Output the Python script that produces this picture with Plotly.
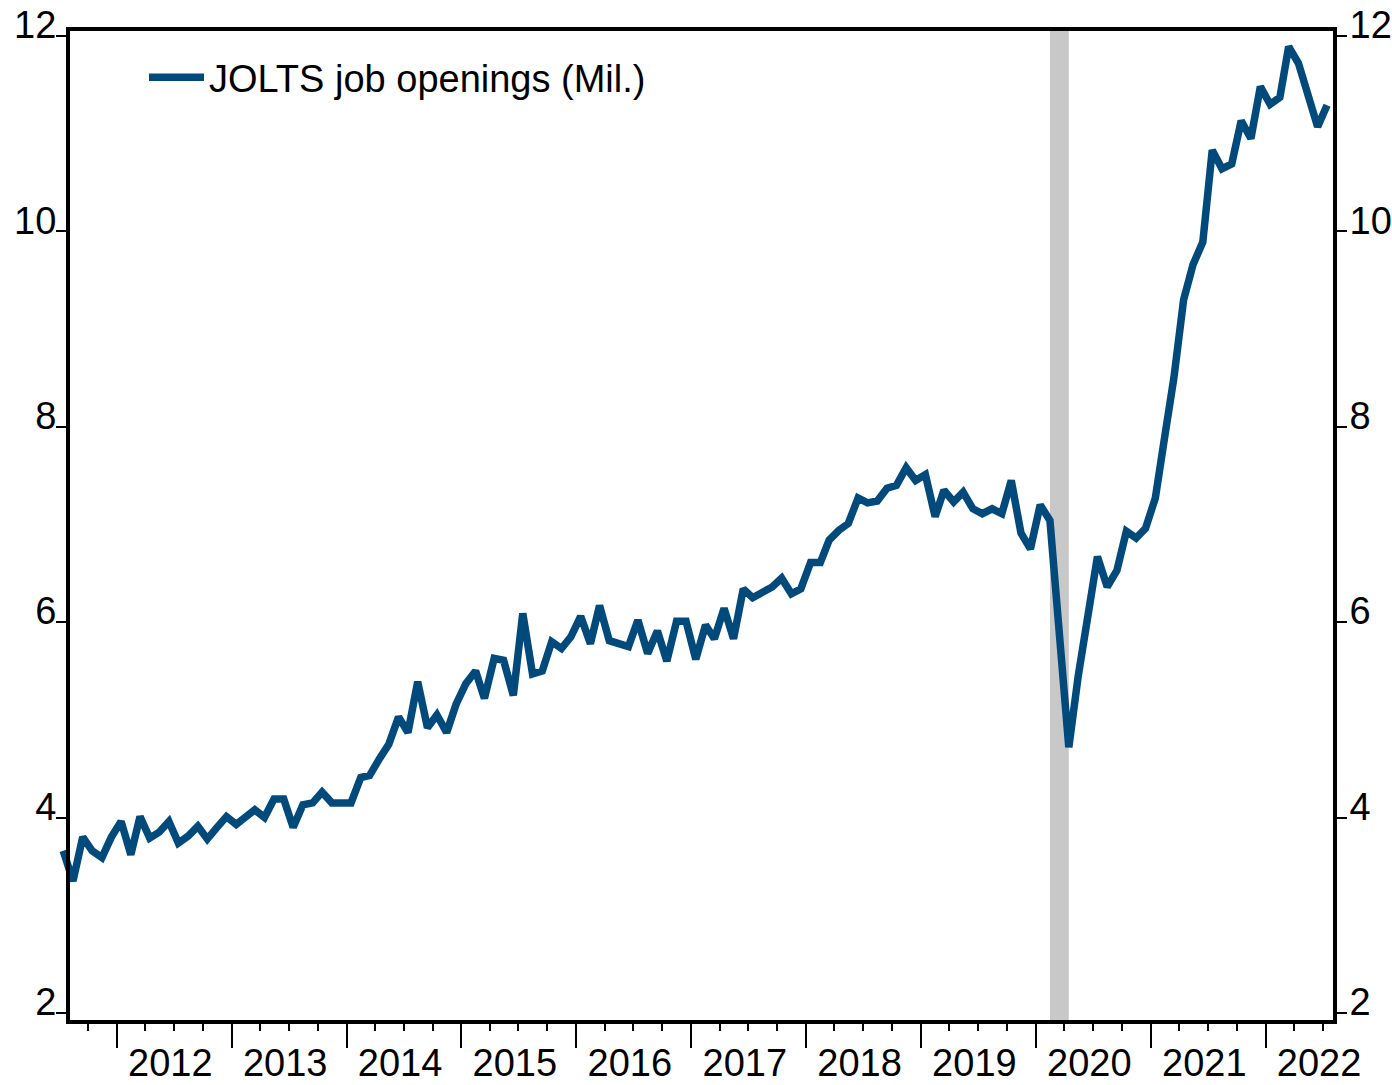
import pandas as pd
import plotly.graph_objects as go

# ---------------- data (monthly, Jul 2011 - Jul 2022, millions) ----------------
first_month = "2011-07-01"
jolts_2011 = [3.66, 3.35, 3.80, 3.66, 3.59, 3.80]
jolts_2012 = [3.96, 3.62, 4.01, 3.79, 3.85, 3.96, 3.74, 3.81, 3.91, 3.78, 3.90, 4.01]
jolts_2013 = [3.93, 4.02, 4.08, 4.00, 4.19, 4.19, 3.90, 4.13, 4.15, 4.26, 4.15, 4.15]
jolts_2014 = [4.15, 4.41, 4.43, 4.60, 4.75, 5.03, 4.87, 5.39, 4.92, 5.05, 4.87, 5.16]
jolts_2015 = [5.37, 5.50, 5.22, 5.63, 5.61, 5.25, 6.09, 5.47, 5.50, 5.80, 5.73, 5.85]
jolts_2016 = [6.06, 5.78, 6.17, 5.81, 5.79, 5.75, 6.02, 5.68, 5.91, 5.60, 6.01, 6.01]
jolts_2017 = [5.62, 5.97, 5.83, 6.14, 5.83, 6.34, 6.25, 6.31, 6.36, 6.45, 6.29, 6.34]
jolts_2018 = [6.61, 6.61, 6.84, 6.94, 7.01, 7.27, 7.22, 7.24, 7.37, 7.40, 7.58, 7.45]
jolts_2019 = [7.51, 7.08, 7.35, 7.23, 7.33, 7.16, 7.11, 7.16, 7.11, 7.45, 6.91, 6.75]
jolts_2020 = [7.20, 7.04, 5.95, 4.72, 5.45, 6.05, 6.67, 6.36, 6.53, 6.93, 6.86, 6.96]
jolts_2021 = [7.27, 7.92, 8.50, 9.30, 9.66, 9.89, 10.83, 10.64, 10.69, 11.13, 10.95, 11.48]
jolts_2022 = [11.30, 11.37, 11.89, 11.72, 11.37, 11.07, 11.29]

series_name = "JOLTS job openings (Mil.)"
recession_start = "2020-02-15"
recession_end = "2020-04-15"
y_ticks = [2, 4, 6, 8, 10, 12]

values = (jolts_2011 + jolts_2012 + jolts_2013 + jolts_2014 + jolts_2015 + jolts_2016
          + jolts_2017 + jolts_2018 + jolts_2019 + jolts_2020 + jolts_2021 + jolts_2022)
dates = pd.date_range(first_month, periods=len(values), freq="MS") + pd.Timedelta(days=14)

# ---------------- geometry ----------------
W, H = 1392, 1085
ML, MR, MT, MB = 30, 59, 31, 65
plot_w = W - ML - MR
plot_h = H - MT - MB
axis_left_px = 70
anchor_date = pd.Timestamp("2012-01-01")
anchor_px = 116.7
px_per_day = 0.31454


def px_to_date(px):
    return anchor_date + pd.Timedelta(days=(px - anchor_px) / px_per_day)


x_range_main = [px_to_date(axis_left_px), px_to_date(W - MR)]
x_range_wide = [px_to_date(ML), px_to_date(W - MR)]
dom0 = (axis_left_px - ML) / plot_w
y_range = [1.928, 12.05]

FONT = "Liberation Sans, Arial, sans-serif"
FS = 38
LINE_COLOR = "#00497B"

fig = go.Figure()
fig.add_trace(go.Scatter(
    x=dates, y=values, mode="lines", name=series_name,
    line=dict(color=LINE_COLOR, width=7.5),
    xaxis="x2", yaxis="y",
))
# empty trace so that the right-hand axis (same scale) gets drawn
fig.add_trace(go.Scatter(x=[], y=[], mode="lines", showlegend=False,
                         hoverinfo="skip", xaxis="x", yaxis="y2"))

fig.add_shape(type="rect", xref="x", yref="y domain",
              x0=recession_start, x1=recession_end, y0=0, y1=1,
              fillcolor="#C8C8C8", line=dict(width=0), layer="below")

common_y = dict(
    range=y_range, tickvals=y_ticks, automargin=False,
    showgrid=False, zeroline=False,
    showline=True, linewidth=4, linecolor="black",
    ticks="outside", ticklen=10, tickwidth=2, tickcolor="black",
    ticklabelshift=-11, anchor="x",
)

fig.update_layout(
    template="none",
    width=W, height=H,
    margin=dict(l=ML, r=MR, t=MT, b=MB, autoexpand=False),
    paper_bgcolor="white", plot_bgcolor="rgba(0,0,0,0)",
    font=dict(family=FONT, size=FS, color="black"),
    showlegend=True,
    hovermode=False,
    legend=dict(x=(144 - ML) / plot_w, y=1 - 15 / plot_h, xanchor="left", yanchor="top",
                bgcolor="rgba(0,0,0,0)", borderwidth=0,
                font=dict(size=FS, family=FONT, color="black"), itemwidth=55),
    xaxis=dict(
        domain=[dom0, 1], range=x_range_main, type="date", automargin=False,
        showgrid=False, zeroline=False,
        showline=True, linewidth=4, linecolor="black", mirror=True,
        ticks="outside", ticklen=24, tickwidth=2, tickcolor="black",
        tick0="2012-01-01", dtick="M12", tickformat="%Y",
        ticklabelmode="period", ticklabelshift=-4, ticklabelstandoff=-18,
        minor=dict(dtick="M3", tick0="2012-01-01", ticks="outside", ticklen=7,
                   tickwidth=2, tickcolor="black", showgrid=False),
        anchor="y",
    ),
    xaxis2=dict(
        domain=[0, 1], range=x_range_wide, type="date", automargin=False,
        visible=False, showgrid=False, zeroline=False, anchor="y",
    ),
    yaxis=dict(common_y, mirror=False, ticklabelstandoff=-8),
    yaxis2=dict(common_y, overlaying="y", side="right", ticklabelstandoff=-5),
)

fig.write_html("out.html", config={"displayModeBar": False},
               post_script="document.body.style.margin='0';")
